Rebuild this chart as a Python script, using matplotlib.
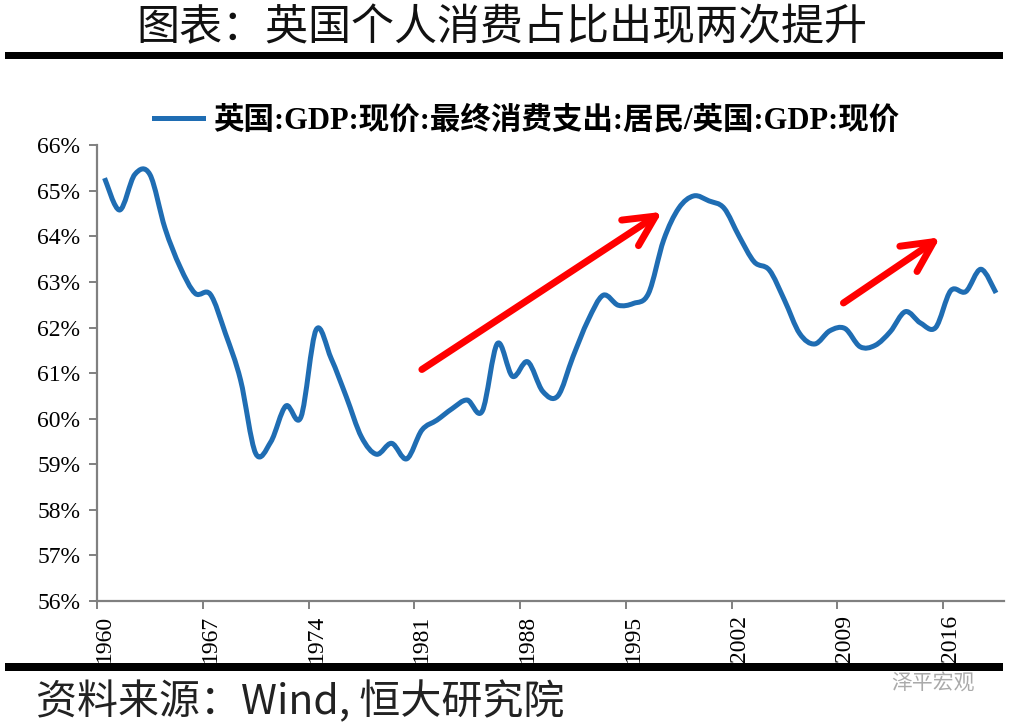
import matplotlib
matplotlib.use("Agg")
import matplotlib.pyplot as plt
from matplotlib.path import Path
from matplotlib.patches import PathPatch, Rectangle
from matplotlib.lines import Line2D

# **********************************************
# dados

years = list(range(1960, 2020))
share = [65.28, 64.58, 65.36, 65.36, 64.18, 63.33, 62.75, 62.73, 61.87, 60.85,
         59.24, 59.49, 60.28, 60.04, 61.95, 61.32, 60.48, 59.60, 59.22, 59.46,
         59.12, 59.75, 59.97, 60.22, 60.41, 60.17, 61.65, 60.93, 61.25, 60.60,
         60.50, 61.36, 62.16, 62.71, 62.49, 62.53, 62.75, 63.92, 64.62, 64.89,
         64.78, 64.62, 64.00, 63.44, 63.26, 62.60, 61.87, 61.64, 61.93, 61.98,
         61.58, 61.61, 61.91, 62.35, 62.10, 62.00, 62.81, 62.79, 63.28, 62.76]

label_years = [1960, 1967, 1974, 1981, 1988, 1995, 2002, 2009, 2016]
y_ticks = [56, 57, 58, 59, 60, 61, 62, 63, 64, 65, 66]

# setas vermelhas (início, ponta)
arrows = [((1981.0, 61.08), (1996.9, 64.54)),
          ((2008.9, 62.54), (2015.3, 63.98))]

title = '图表：英国个人消费占比出现两次提升'
legend_label = '英国:GDP:现价:最终消费支出:居民/英国:GDP:现价'
source = '资料来源：Wind, 恒大研究院'
watermark = '泽平宏观'

serif_cjk = ['Liberation Serif', 'Noto Sans CJK SC']
cjk = ['Noto Sans CJK SC', 'DejaVu Sans']
blue = '#1f6db3'
gray = '#808080'


# curva suavizada (estilo Excel): bezier cúbica passando pelos pontos
def smooth_path(xs, ys):
    n = len(xs)
    verts = [(xs[0], ys[0])]
    codes = [Path.MOVETO]
    for i in range(n - 1):
        i0 = max(i - 1, 0)
        i3 = min(i + 2, n - 1)
        c1 = (xs[i] + (xs[i + 1] - xs[i0]) / 6, ys[i] + (ys[i + 1] - ys[i0]) / 6)
        c2 = (xs[i + 1] - (xs[i3] - xs[i]) / 6, ys[i + 1] - (ys[i3] - ys[i]) / 6)
        verts += [c1, c2, (xs[i + 1], ys[i + 1])]
        codes += [Path.CURVE4] * 3
    return Path(verts, codes)


fig = plt.figure(figsize=(10.10, 7.28), dpi=100)
ax = fig.add_axes([97 / 1010, 1 - 601 / 728, 906.6 / 1010, 455.7 / 728])

ax.add_patch(PathPatch(smooth_path(years, share), fill=False, edgecolor=blue,
                       lw=3.6, capstyle='butt', joinstyle='round'))

ax.set_xlim(1959.5, 2019.5)
ax.set_ylim(56, 66)

for start, tip in arrows:
    ax.annotate('', xy=tip, xytext=start,
                arrowprops=dict(arrowstyle='->, head_length=1.1, head_width=0.55',
                                mutation_scale=20, lw=5, color='#ff0000',
                                shrinkA=0, shrinkB=0))

# eixos
for s in ['top', 'right']:
    ax.spines[s].set_visible(False)
for s in ['left', 'bottom']:
    ax.spines[s].set_color(gray)
    ax.spines[s].set_linewidth(1.6)

ax.set_yticks(y_ticks)
ax.set_yticklabels([f'{v}%' for v in y_ticks], family=serif_cjk, fontsize=17)
ax.tick_params(axis='y', direction='out', length=6, width=1.4, color=gray, pad=6)

ax.set_xticks([y - 0.5 for y in label_years])
ax.set_xticklabels([])
ax.set_xticks(label_years, minor=True)
ax.set_xticklabels([str(y) for y in label_years], minor=True, rotation=90,
                   family=serif_cjk, fontsize=17)
ax.tick_params(axis='x', which='major', direction='out', length=6, width=1.4, color=gray)
ax.tick_params(axis='x', which='minor', length=0, pad=10)

# legenda
handle = Line2D([], [], color=blue, lw=3.6)
ax.legend([handle], [legend_label], loc='center', frameon=False,
          bbox_to_anchor=(527 / 1010, 1 - 121 / 728), bbox_transform=fig.transFigure,
          prop=dict(family=serif_cjk, weight='bold', size=22),
          handlelength=1.6, handletextpad=0.35)

# título, barras e fonte
fig.text(0.497, 1 - 28 / 728, title, ha='center', va='center', fontsize=31,
         family=cjk, weight='light', color='#111111')
fig.add_artist(Rectangle((5 / 1010, 1 - 59 / 728), 998 / 1010, 7 / 728,
                         transform=fig.transFigure, color='black', lw=0))
fig.add_artist(Rectangle((5 / 1010, 1 - 671 / 728), 998 / 1010, 8 / 728,
                         transform=fig.transFigure, color='black', lw=0))
fig.text(36 / 1010, 1 - 702 / 728, source, ha='left', va='center', fontsize=29.5,
         family=cjk, style='italic', weight='light', color='#222222')
fig.text(975 / 1010, 1 - 684 / 728, watermark, ha='right', va='center', fontsize=15,
         family=cjk, color='#aaaaaa')

fig.savefig('out.png', dpi=100)
